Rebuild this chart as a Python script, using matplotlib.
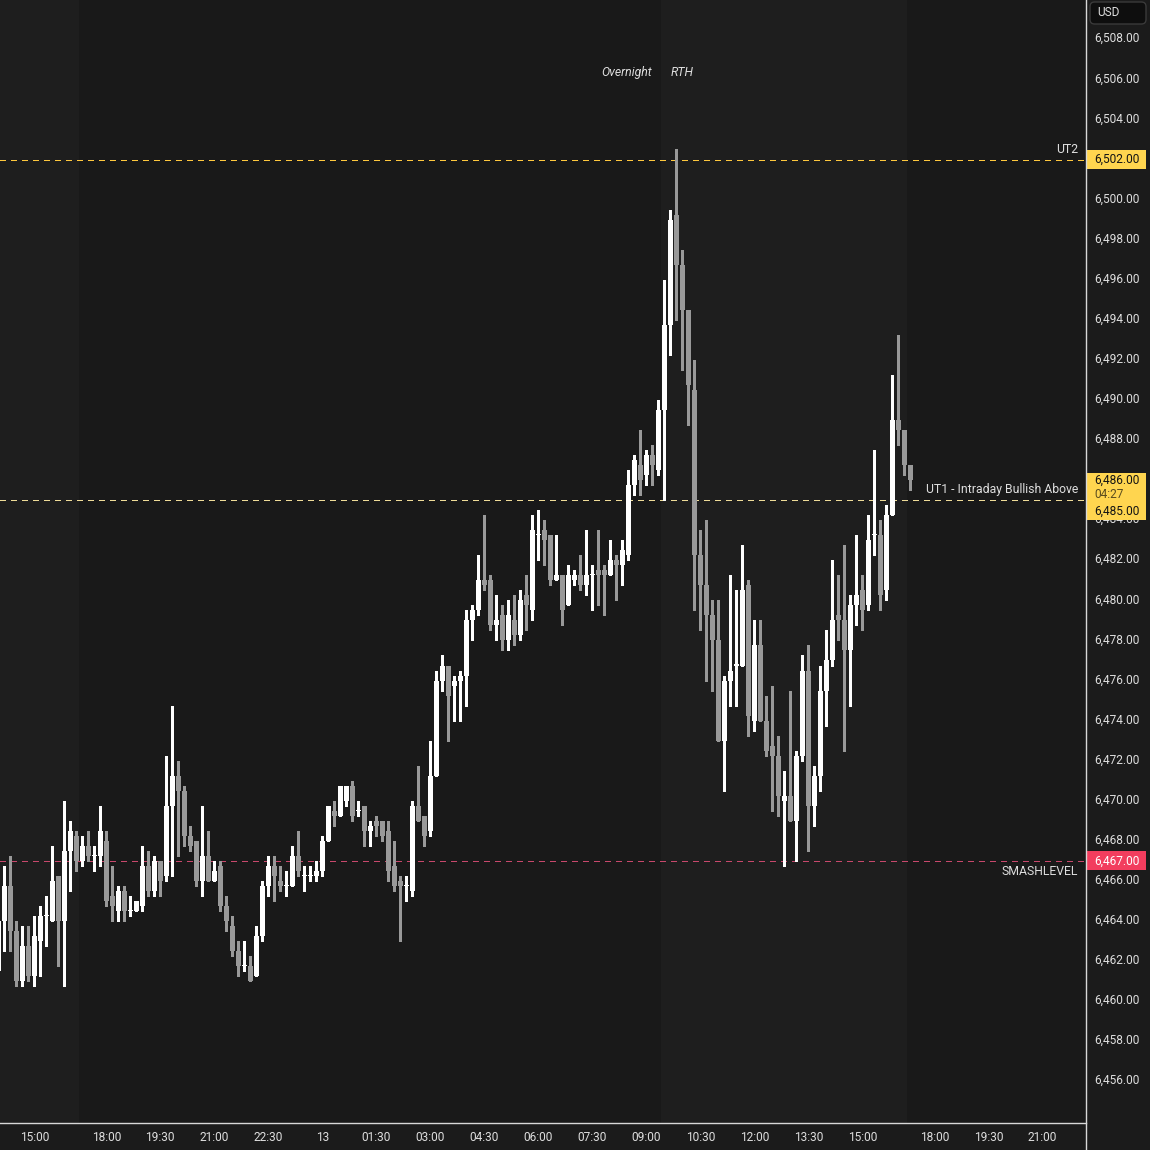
"""
ES 10-minute candles with key levels (dark trading-terminal style)
"""

import numpy as np
import pandas as pd
import matplotlib
matplotlib.use('Agg')
import matplotlib.pyplot as plt
import matplotlib.transforms as mtransforms
from matplotlib.patches import Rectangle, FancyBboxPatch
from matplotlib.lines import Line2D

plt.rcParams['font.family'] = ['Roboto', 'DejaVu Sans']

# ---- data ----
opens = [6461.5, 6464.0, 6465.75, 6463.5, 6461.0, 6462.75, 6461.25, 6463.0, 6464.25, 6464.0,
         6466.25, 6464.0, 6467.5, 6468.25, 6467.0, 6467.75, 6467.25, 6467.25, 6468.0, 6465.25,
         6464.5, 6465.5, 6464.5, 6464.5, 6464.75, 6466.75, 6465.5, 6467.0, 6466.25, 6469.75,
         6471.25, 6470.5, 6468.25, 6468.0, 6466.0, 6467.25, 6466.0, 6466.75, 6464.75, 6463.75,
         6462.5, 6461.75, 6461.75, 6461.25, 6463.25, 6465.75, 6466.75, 6466.0, 6465.75, 6465.75,
         6467.25, 6466.25, 6466.25, 6466.25, 6466.5, 6468.0, 6469.5, 6469.25, 6470.0, 6470.75,
         6469.5, 6469.75, 6468.5, 6469.0, 6469.0, 6468.5, 6466.75, 6466.0, 6465.75, 6465.5,
         6469.75, 6469.25, 6468.5, 6471.25, 6476.0, 6476.75, 6475.75, 6476.0, 6476.25, 6479.0,
         6479.5, 6481.0, 6481.0, 6478.75, 6479.25, 6478.0, 6479.0, 6478.25, 6480.25, 6479.5,
         6483.25, 6483.5, 6483.25, 6481.0, 6481.25, 6479.75, 6481.0, 6481.25, 6480.75, 6481.25,
         6481.5, 6481.5, 6481.25, 6482.0, 6481.75, 6482.25, 6485.75, 6486.75, 6486.25, 6487.25,
         6486.5, 6489.5, 6493.75, 6499.25, 6496.75, 6494.5, 6490.5, 6482.25, 6480.75, 6479.25,
         6478.0, 6473.0, 6476.0, 6476.75, 6476.75, 6480.75, 6474.0, 6477.75, 6474.0, 6472.75,
         6472.25, 6470.0, 6470.25, 6469.0, 6472.25, 6476.5, 6469.75, 6471.25, 6475.5, 6477.0,
         6479.25, 6479.0, 6477.5, 6479.75, 6480.5, 6479.75, 6483.25, 6483.25, 6480.5, 6484.25,
         6489.0, 6488.5, 6486.75]
highs = [6464.0, 6466.75, 6467.25, 6464.0, 6463.75, 6463.75, 6464.25, 6464.75, 6465.25, 6467.75,
         6466.25, 6470.0, 6469.0, 6468.5, 6468.25, 6468.5, 6467.75, 6469.75, 6468.5, 6466.75,
         6465.75, 6465.75, 6465.25, 6465.0, 6467.75, 6467.5, 6467.25, 6467.0, 6472.25, 6474.75,
         6472.0, 6470.75, 6468.75, 6468.0, 6469.75, 6468.5, 6467.0, 6467.0, 6465.25, 6464.25,
         6463.0, 6463.0, 6462.25, 6463.75, 6466.0, 6467.25, 6467.25, 6466.75, 6466.5, 6467.75,
         6468.5, 6466.75, 6466.75, 6467.0, 6468.25, 6469.75, 6470.0, 6470.75, 6470.75, 6471.0,
         6470.0, 6469.75, 6469.0, 6469.25, 6469.0, 6469.0, 6468.0, 6466.25, 6466.25, 6470.0,
         6471.75, 6469.25, 6473.0, 6476.5, 6477.25, 6476.75, 6476.25, 6476.5, 6479.5, 6479.75,
         6482.25, 6484.25, 6481.25, 6480.25, 6479.75, 6480.0, 6480.25, 6480.5, 6481.25, 6484.25,
         6484.5, 6484.0, 6483.25, 6483.25, 6481.25, 6481.75, 6481.5, 6482.25, 6483.5, 6481.75,
         6483.5, 6481.75, 6483.0, 6482.25, 6483.0, 6486.5, 6487.25, 6488.5, 6487.5, 6487.75,
         6490.0, 6496.0, 6499.5, 6502.5, 6497.5, 6494.5, 6492.0, 6483.5, 6484.0, 6480.0,
         6480.0, 6476.25, 6481.25, 6480.5, 6482.75, 6481.0, 6479.0, 6479.0, 6475.25, 6475.75,
         6473.25, 6471.5, 6475.5, 6472.5, 6477.25, 6477.75, 6471.75, 6476.75, 6478.5, 6482.0,
         6481.25, 6482.75, 6480.25, 6483.25, 6481.25, 6484.25, 6487.5, 6484.0, 6484.75, 6491.25,
         6493.25, 6488.5, 6486.75]
lows = [6461.25, 6462.5, 6462.5, 6460.75, 6460.75, 6461.0, 6460.75, 6461.25, 6462.75, 6464.0,
        6461.75, 6460.75, 6465.5, 6466.5, 6466.75, 6467.0, 6466.5, 6466.75, 6464.75, 6464.0,
        6464.0, 6464.0, 6464.25, 6464.5, 6464.5, 6465.25, 6465.25, 6465.25, 6466.0, 6466.25,
        6467.25, 6467.75, 6467.5, 6465.75, 6465.25, 6466.0, 6466.0, 6464.5, 6463.5, 6462.25,
        6461.25, 6461.5, 6461.0, 6461.25, 6463.0, 6465.25, 6465.0, 6465.5, 6465.25, 6465.75,
        6466.25, 6465.5, 6466.0, 6466.0, 6466.25, 6468.0, 6468.75, 6469.25, 6469.75, 6469.0,
        6469.25, 6467.75, 6467.75, 6468.25, 6468.0, 6466.0, 6465.5, 6463.0, 6465.0, 6465.25,
        6469.0, 6467.75, 6468.25, 6471.25, 6475.5, 6473.0, 6474.0, 6474.0, 6474.75, 6478.0,
        6479.25, 6480.5, 6478.5, 6478.0, 6477.5, 6477.5, 6477.75, 6478.0, 6478.5, 6479.0,
        6482.0, 6481.75, 6480.75, 6481.0, 6478.75, 6479.75, 6480.75, 6480.5, 6480.25, 6479.5,
        6479.75, 6479.25, 6481.25, 6480.0, 6480.75, 6482.0, 6485.25, 6485.25, 6485.75, 6485.75,
        6486.25, 6485.0, 6492.25, 6494.0, 6491.5, 6488.75, 6479.5, 6478.5, 6476.0, 6475.5,
        6473.0, 6470.5, 6474.75, 6474.75, 6476.75, 6473.25, 6473.5, 6474.0, 6472.25, 6469.5,
        6469.25, 6466.75, 6469.0, 6467.0, 6472.0, 6467.5, 6468.75, 6470.5, 6473.75, 6476.75,
        6478.0, 6472.5, 6474.75, 6478.75, 6478.5, 6479.5, 6482.25, 6479.5, 6480.0, 6484.25,
        6487.75, 6486.25, 6485.5]
closes = [6464.0, 6465.75, 6463.5, 6461.0, 6462.75, 6461.25, 6463.25, 6464.25, 6464.25, 6466.0,
          6464.0, 6467.5, 6468.5, 6467.0, 6467.75, 6467.25, 6467.25, 6468.5, 6465.0, 6464.75,
          6465.5, 6464.5, 6464.5, 6465.0, 6466.75, 6465.5, 6467.0, 6466.0, 6469.75, 6471.25,
          6470.5, 6468.25, 6467.75, 6466.0, 6467.25, 6466.0, 6466.5, 6464.75, 6464.0, 6462.5,
          6461.75, 6461.75, 6461.0, 6463.25, 6465.75, 6466.75, 6466.25, 6465.75, 6465.75, 6467.25,
          6466.5, 6466.25, 6466.25, 6466.5, 6468.0, 6469.75, 6469.25, 6470.75, 6470.75, 6469.25,
          6469.5, 6468.5, 6468.75, 6468.75, 6468.25, 6466.5, 6465.75, 6465.75, 6465.75, 6469.75,
          6469.0, 6468.25, 6471.25, 6476.0, 6476.75, 6475.25, 6476.0, 6476.25, 6479.0, 6479.5,
          6481.0, 6480.75, 6478.75, 6479.0, 6478.0, 6479.25, 6478.25, 6480.0, 6479.75, 6483.5,
          6483.25, 6483.0, 6481.0, 6481.25, 6479.5, 6481.25, 6481.25, 6480.75, 6481.25, 6481.25,
          6481.25, 6481.25, 6482.0, 6481.75, 6482.5, 6485.75, 6487.0, 6486.0, 6487.25, 6486.75,
          6489.5, 6493.75, 6499.0, 6496.75, 6494.5, 6490.75, 6482.25, 6480.75, 6479.25, 6478.0,
          6473.0, 6476.0, 6476.5, 6476.75, 6480.5, 6474.25, 6477.75, 6474.0, 6472.5, 6472.25,
          6470.25, 6470.25, 6469.0, 6472.25, 6476.5, 6469.75, 6471.25, 6475.5, 6477.0, 6479.0,
          6479.0, 6477.5, 6479.75, 6480.25, 6479.5, 6483.0, 6483.25, 6480.25, 6484.25, 6489.0,
          6488.5, 6486.75, 6486.0]

start_time = '2025-08-12 14:00'
end_time = '2025-08-13 23:50'
tick_times = ['2025-08-12 15:00', '2025-08-12 18:00', '2025-08-12 19:30', '2025-08-12 21:00',
              '2025-08-12 22:30', '2025-08-13 00:00', '2025-08-13 01:30', '2025-08-13 03:00',
              '2025-08-13 04:30', '2025-08-13 06:00', '2025-08-13 07:30', '2025-08-13 09:00',
              '2025-08-13 10:30', '2025-08-13 12:00', '2025-08-13 13:30', '2025-08-13 15:00',
              '2025-08-13 18:00', '2025-08-13 19:30', '2025-08-13 21:00']

level_prices = [6502.0, 6485.0, 6467.0]
level_names = ['UT2', 'UT1 - Intraday Bullish Above', 'SMASHLEVEL']
countdown = '04:27'
price_ticks = np.arange(6456, 6510, 2)

# ---- colours ----
BG_ETH = '#191919'
BG_RTH = '#1e1e1e'
UP = '#ffffff'
DOWN = '#999999'
TXT = '#dedede'
YEL = '#ffd54f'
RED = '#f23d5e'

# 10-minute bars, daily maintenance break 17:00-18:00 removed
bar_times = pd.date_range(start_time, end_time, freq='10min')
bar_times = bar_times[bar_times.hour != 17]

o = np.array(opens)
h = np.array(highs)
l = np.array(lows)
c = np.array(closes)
idx = np.arange(len(o))
up = c >= o
cols = np.where(up, UP, DOWN)

W, H = 1150, 1150
fig = plt.figure(figsize=(W / 100, H / 100), dpi=100, facecolor='#1b1b1b')
ax = fig.add_axes([0, 27 / H, 1086 / W, 1123 / H])
ax.set_facecolor(BG_ETH)
ymin, ymax = 6453.92, 6509.96
ax.set_ylim(ymin, ymax)
ax.set_xlim(0.283, 181.28)
ppx = (ymax - ymin) / 1123.0  # price per pixel

# RTH session shading (09:30 - 16:15)
tod = bar_times.hour * 60 + bar_times.minute
is_rth = (tod >= 9 * 60 + 30) & (tod < 16 * 60 + 15)
run_start = None
for i, flag in enumerate(is_rth):
    if flag and run_start is None:
        run_start = i
    if (not flag or i == len(is_rth) - 1) and run_start is not None:
        end = i if not flag else i + 1
        ax.axvspan(run_start - 0.5, end - 0.5, color=BG_RTH, lw=0, zorder=0)
        run_start = None

# session labels at the overnight -> RTH boundary
rth_open = bar_times.get_loc(pd.Timestamp('2025-08-13 09:30')) - 0.5
ax.annotate('Overnight', xy=(rth_open, 0.9355), xycoords=('data', 'axes fraction'),
            xytext=(-7, 0), textcoords='offset points', ha='right', va='center',
            color=TXT, fontsize=8.8, style='italic')
ax.annotate('RTH', xy=(rth_open, 0.9355), xycoords=('data', 'axes fraction'),
            xytext=(6.5, 0), textcoords='offset points', ha='left', va='center',
            color=TXT, fontsize=8.8, style='italic')

# candles
ax.vlines(idx, l, h, colors=cols, lw=0.75, zorder=3, antialiased=False)
body_h = np.maximum(np.abs(c - o), ppx * 1.1)
ax.bar(idx, body_h, bottom=np.minimum(o, c), width=0.86, color=cols, lw=0,
       zorder=4, antialiased=False)

# key levels
line_cols = ['#ffc83d', '#efdc98', '#c8486c']
label_dy = [7.5, 7.5, -7.5]
for price, name, lc, dy in zip(level_prices, level_names, line_cols, label_dy):
    ax.axhline(price, color=lc, lw=1.0, dashes=(3.6, 3.9), zorder=2, antialiased=False)
    ax.annotate(name, xy=(0.9926, price), xycoords=('axes fraction', 'data'),
                xytext=(0, dy), textcoords='offset points', ha='right', va='center',
                color=TXT, fontsize=8.8)

# axes / ticks
ax.yaxis.tick_right()
ax.set_yticks(price_ticks)
ax.set_yticklabels([f'{p:,.2f}' for p in price_ticks])
ax.tick_params(axis='y', length=0, pad=5.8, labelsize=8.6, colors=TXT)
lift = mtransforms.ScaledTranslation(0, 1.5 / 72, fig.dpi_scale_trans)
for lab in ax.get_yticklabels():
    lab.set_transform(lab.get_transform() + lift)

tick_pos = [bar_times.get_loc(pd.Timestamp(t)) for t in tick_times]
tick_lab = []
for t in tick_times:
    ts = pd.Timestamp(t)
    tick_lab.append(str(ts.day) if ts.hour == 0 and ts.minute == 0 else ts.strftime('%H:%M'))
ax.set_xticks(tick_pos)
ax.set_xticklabels(tick_lab)
ax.tick_params(axis='x', length=0, pad=6, labelsize=8.6, colors=TXT)
for s in ax.spines.values():
    s.set_visible(False)

fig.add_artist(Line2D([1086 / W, 1086 / W], [0, 1], color='#d8d8d8', lw=1))
fig.add_artist(Line2D([0, 1086 / W], [27 / H, 27 / H], color='#d8d8d8', lw=1))

# price tags on the scale
tag_ax = fig.add_axes([1087 / W, 27 / H, 63 / W, 1123 / H])
tag_ax.set_xlim(0, 63)
tag_ax.set_ylim(ymin, ymax)
tag_ax.axis('off')


def price_tag(top, bottom, fc):
    tag_ax.add_patch(Rectangle((0, bottom), 59, top - bottom, fc=fc, lw=0, zorder=5))


# UT2
price_tag(level_prices[0] + 9.5 * ppx, level_prices[0] - 9.5 * ppx, YEL)
tag_ax.text(7, level_prices[0], f'{level_prices[0]:,.2f}', color='#141414',
            fontsize=8.6, va='center', ha='left', zorder=6)

# last price + countdown + UT1
last = closes[-1]
price_tag(last + 7 * ppx, last - 40 * ppx, YEL)
tag_ax.text(7, last, f'{last:,.2f}', color='#141414', fontsize=8.6,
            va='center', ha='left', zorder=6)
tag_ax.text(7, last - 14 * ppx, countdown, color='#5a4c1e', fontsize=8.6,
            va='center', ha='left', zorder=6)
tag_ax.text(7, last - 31 * ppx, f'{level_prices[1]:,.2f}', color='#141414',
            fontsize=8.6, va='center', ha='left', zorder=6)

# SMASHLEVEL
price_tag(level_prices[2] + 9.5 * ppx, level_prices[2] - 9.5 * ppx, RED)
tag_ax.text(7, level_prices[2], f'{level_prices[2]:,.2f}', color='#ffffff',
            fontsize=8.6, va='center', ha='left', zorder=6)

# currency box
fig.add_artist(FancyBboxPatch((1090 / W, 1 - 24 / H), 56 / W, 22 / H,
                              boxstyle='round,pad=0,rounding_size=0.004',
                              transform=fig.transFigure, fc='#0e0e0e', ec='#3a3a3a', lw=1))
fig.text(1097 / W, 1 - 12.5 / H, 'USD', color=TXT, fontsize=8.6, va='center', ha='left')

fig.savefig('out.png', dpi=100, facecolor=fig.get_facecolor())
plt.close(fig)
